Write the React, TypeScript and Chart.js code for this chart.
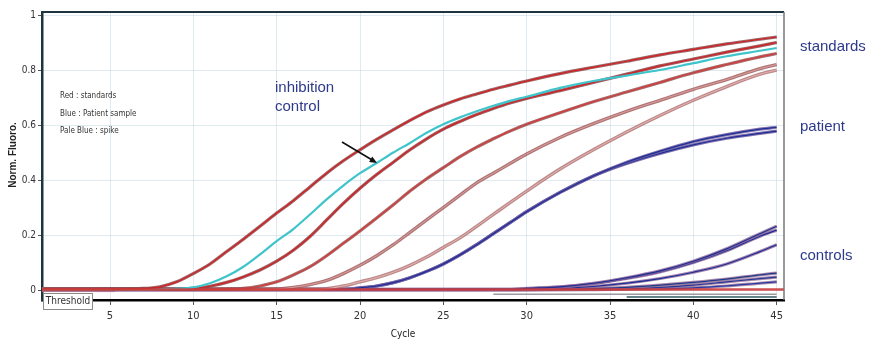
import React, { useEffect, useRef } from "react";
import { Chart, registerables } from "chart.js";
Chart.register(...registerables);

// Cycle grid shared by all series
const CYCLES = [1, 4, 7, 8, 9, 10, 11, 12, 13, 14, 15, 16, 17, 18, 19, 20, 21, 22, 23, 24, 25, 26, 27, 28, 29, 30, 32, 34, 36, 38, 40, 42, 44, 45];

// Standards (red)
const STD_1 = [0.004, 0.004, 0.006, 0.012, 0.03, 0.06, 0.095, 0.14, 0.185, 0.232, 0.28, 0.325, 0.375, 0.425, 0.47, 0.51, 0.548, 0.583, 0.617, 0.648, 0.673, 0.695, 0.713, 0.73, 0.745, 0.76, 0.787, 0.81, 0.832, 0.855, 0.875, 0.895, 0.912, 0.92];
const STD_2 = [0.004, 0.004, 0.004, 0.004, 0.004, 0.006, 0.014, 0.028, 0.048, 0.073, 0.105, 0.145, 0.195, 0.255, 0.315, 0.37, 0.42, 0.465, 0.51, 0.55, 0.585, 0.613, 0.638, 0.66, 0.68, 0.697, 0.725, 0.755, 0.785, 0.815, 0.84, 0.865, 0.888, 0.9];
const STD_3 = [0.003, 0.003, 0.003, 0.003, 0.003, 0.003, 0.003, 0.004, 0.006, 0.015, 0.03, 0.055, 0.085, 0.125, 0.17, 0.215, 0.262, 0.31, 0.36, 0.405, 0.445, 0.485, 0.52, 0.55, 0.578, 0.603, 0.645, 0.685, 0.72, 0.755, 0.79, 0.82, 0.848, 0.86];
const STD_4 = [0.003, 0.003, 0.003, 0.003, 0.003, 0.003, 0.003, 0.003, 0.003, 0.003, 0.004, 0.01, 0.02, 0.035, 0.06, 0.09, 0.125, 0.165, 0.21, 0.255, 0.3, 0.345, 0.39, 0.425, 0.46, 0.495, 0.555, 0.605, 0.65, 0.69, 0.73, 0.765, 0.805, 0.82];
const STD_5 = [0.003, 0.003, 0.003, 0.003, 0.003, 0.003, 0.003, 0.003, 0.003, 0.003, 0.003, 0.003, 0.003, 0.005, 0.015, 0.03, 0.045, 0.065, 0.09, 0.12, 0.155, 0.19, 0.232, 0.275, 0.318, 0.36, 0.44, 0.51, 0.575, 0.635, 0.69, 0.74, 0.785, 0.8];

// Spike / inhibition control (pale blue)
const SPIKE = [0.002, 0.002, 0.002, 0.003, 0.005, 0.01, 0.025, 0.05, 0.085, 0.13, 0.178, 0.222, 0.275, 0.33, 0.38, 0.425, 0.462, 0.5, 0.535, 0.572, 0.603, 0.628, 0.65, 0.67, 0.688, 0.703, 0.735, 0.76, 0.78, 0.8, 0.825, 0.85, 0.87, 0.88];

// Patient samples (blue)
const PATIENT_1 = [0.003, 0.003, 0.003, 0.003, 0.003, 0.003, 0.003, 0.003, 0.003, 0.003, 0.003, 0.003, 0.003, 0.003, 0.003, 0.008, 0.015, 0.027, 0.045, 0.068, 0.095, 0.128, 0.165, 0.205, 0.245, 0.285, 0.355, 0.415, 0.465, 0.505, 0.54, 0.565, 0.585, 0.592];
const PATIENT_2 = [0.003, 0.003, 0.003, 0.003, 0.003, 0.003, 0.003, 0.003, 0.003, 0.003, 0.003, 0.003, 0.003, 0.003, 0.003, 0.008, 0.015, 0.027, 0.045, 0.068, 0.095, 0.128, 0.165, 0.205, 0.245, 0.285, 0.355, 0.415, 0.46, 0.497, 0.528, 0.552, 0.57, 0.578];

// Controls (blue)
const CTRL_1A = [0.003, 0.003, 0.003, 0.003, 0.003, 0.003, 0.003, 0.003, 0.003, 0.003, 0.003, 0.003, 0.003, 0.003, 0.003, 0.003, 0.003, 0.003, 0.003, 0.003, 0.003, 0.003, 0.003, 0.003, 0.003, 0.006, 0.012, 0.025, 0.045, 0.07, 0.105, 0.15, 0.205, 0.232];
const CTRL_1B = [0.003, 0.003, 0.003, 0.003, 0.003, 0.003, 0.003, 0.003, 0.003, 0.003, 0.003, 0.003, 0.003, 0.003, 0.003, 0.003, 0.003, 0.003, 0.003, 0.003, 0.003, 0.003, 0.003, 0.003, 0.003, 0.005, 0.011, 0.023, 0.042, 0.066, 0.1, 0.143, 0.196, 0.218];
const CTRL_2 = [0.002, 0.002, 0.002, 0.002, 0.002, 0.002, 0.002, 0.002, 0.002, 0.002, 0.002, 0.002, 0.002, 0.002, 0.002, 0.002, 0.002, 0.002, 0.002, 0.002, 0.002, 0.002, 0.002, 0.002, 0.002, 0.003, 0.006, 0.013, 0.025, 0.042, 0.065, 0.095, 0.14, 0.165];
const CTRL_3 = [0.002, 0.002, 0.002, 0.002, 0.002, 0.002, 0.002, 0.002, 0.002, 0.002, 0.002, 0.002, 0.002, 0.002, 0.002, 0.002, 0.002, 0.002, 0.002, 0.002, 0.002, 0.002, 0.002, 0.002, 0.002, 0.002, 0.003, 0.005, 0.01, 0.018, 0.028, 0.04, 0.055, 0.062];
const CTRL_4 = [0.002, 0.002, 0.002, 0.002, 0.002, 0.002, 0.002, 0.002, 0.002, 0.002, 0.002, 0.002, 0.002, 0.002, 0.002, 0.002, 0.002, 0.002, 0.002, 0.002, 0.002, 0.002, 0.002, 0.002, 0.002, 0.002, 0.002, 0.003, 0.005, 0.01, 0.018, 0.03, 0.042, 0.047];
const CTRL_5 = [0.001, 0.001, 0.001, 0.001, 0.001, 0.001, 0.001, 0.001, 0.001, 0.001, 0.001, 0.001, 0.001, 0.001, 0.001, 0.001, 0.001, 0.001, 0.001, 0.001, 0.001, 0.001, 0.001, 0.001, 0.001, 0.001, 0.002, 0.002, 0.003, 0.005, 0.008, 0.015, 0.025, 0.03];
const FLAT_1 = [null, null, null, null, null, null, null, null, null, null, null, null, null, null, null, null, null, null, null, null, null, null, null, -0.015, -0.015, -0.015, -0.015, -0.015, -0.015, -0.015, -0.015, -0.015, -0.015, -0.015];
const FLAT_2 = [null, null, null, null, null, null, null, null, null, null, null, null, null, null, null, null, null, null, null, null, null, null, null, null, null, null, null, null, -0.025, -0.025, -0.025, -0.025, -0.025, -0.025];

const THRESHOLD = 0.002;
const Y_TICKS = [0, 0.2, 0.4, 0.6, 0.8, 1];
const X_TICKS = [5, 10, 15, 20, 25, 30, 35, 40, 45];
const Y_LABELS = ["0", "0.2", "0.4", "0.6", "0.8", "1"];

const NARROW = "'Liberation Sans Narrow', 'DejaVu Sans Condensed', 'Liberation Sans', sans-serif";
const SANS = "'Liberation Sans', Arial, sans-serif";
const NAVY = "#2d3a8c";

export default function App() {
  const ref = useRef<HTMLCanvasElement>(null);
  useEffect(() => {
    const canvas = ref.current!;
    const pts = (vals: (number | null)[]) => CYCLES.map((c, i) => ({ x: c, y: vals[i] }));
    const list: any[] = []; // bottom first
    const pair = (vals: any[], edge: string, core: string, ew = 3.2, cw = 1.2) => {
      list.push({ data: pts(vals), borderColor: edge, borderWidth: ew });
      list.push({ data: pts(vals), borderColor: core, borderWidth: cw });
    };
    list.push({ data: pts(FLAT_2), borderColor: "#2f5a60", borderWidth: 1.5 });
    list.push({ data: pts(FLAT_1), borderColor: "#9a9aa0", borderWidth: 1.5 });
    pair(CTRL_5, "rgba(150,110,150,0.8)", "#2a3aa0");
    pair(CTRL_4, "rgba(150,110,150,0.8)", "#25389a");
    pair(CTRL_3, "rgba(150,110,150,0.8)", "#1f3a8a");
    pair(CTRL_2, "rgba(140,100,150,0.8)", "#1d2f96");
    pair(CTRL_1B, "rgba(140,100,150,0.8)", "#1d2f96");
    pair(CTRL_1A, "rgba(140,100,150,0.8)", "#1d2f96");
    pair(PATIENT_2, "rgba(110,90,160,0.85)", "#1d2f96");
    pair(PATIENT_1, "rgba(110,90,160,0.85)", "#1d2f96");
    pair(STD_5, "rgba(170,110,110,0.8)", "#e8b0b0", 3.4, 1.0);
    pair(STD_4, "rgba(160,95,95,0.85)", "#e09a9a", 3.4, 1.0);
    pair(STD_3, "rgba(150,85,85,0.85)", "#d43a3a");
    pair(STD_2, "rgba(140,70,75,0.85)", "#d42020");
    list.push({ data: pts(SPIKE), borderColor: "#3fc4cc", borderWidth: 2.2 });
    pair(STD_1, "rgba(140,75,80,0.85)", "#d42020");
    const datasets = list.reverse().map((d) => ({ ...d, pointRadius: 0, fill: false, cubicInterpolationMode: "monotone", spanGaps: false }));

    const annot = {
      id: "annot",
      beforeDatasetsDraw(chart: any) {
        const { ctx, chartArea: a, scales } = chart;
        const y0 = scales.y.getPixelForValue(0);
        ctx.save();
        ctx.fillStyle = "rgba(225,110,110,0.75)";
        ctx.fillRect(a.left, y0 - 3, scales.x.getPixelForValue(5.3) - a.left, 5);
        ctx.restore();
      },
      afterDatasetsDraw(chart: any) {
        const { ctx, chartArea: a, scales } = chart;
        const yt = scales.y.getPixelForValue(THRESHOLD);
        ctx.save();
        ctx.strokeStyle = "rgba(205,60,60,0.9)";
        ctx.lineWidth = 2.5;
        ctx.beginPath();
        ctx.moveTo(a.left, yt);
        ctx.lineTo(a.right, yt);
        ctx.stroke();
        ctx.restore();
      },
      afterDraw(chart: any) {
        const { ctx, chartArea: a } = chart;
        ctx.save();
        // frame top / right
        ctx.strokeStyle = "#1e3540";
        ctx.lineWidth = 2;
        ctx.beginPath();
        ctx.moveTo(a.left - 1, a.top);
        ctx.lineTo(a.right, a.top);
        ctx.stroke();
        ctx.strokeStyle = "#777";
        ctx.lineWidth = 1.5;
        ctx.beginPath();
        ctx.moveTo(a.right, a.top);
        ctx.lineTo(a.right, a.bottom);
        ctx.stroke();

        // Threshold label
        ctx.fillStyle = "#fff";
        ctx.fillRect(a.left + 1, 293, 49, 16);
        ctx.strokeStyle = "#8a8a8a";
        ctx.lineWidth = 1;
        ctx.strokeRect(a.left + 1.5, 293.5, 49, 16);
        ctx.fillStyle = "#333";
        ctx.font = `10px ${NARROW}`;
        ctx.textAlign = "center";
        ctx.textBaseline = "middle";
        ctx.fillText("Threshold", a.left + 26, 301.5);

        // axis titles
        ctx.font = `bold 10px ${SANS}`;
        ctx.fillStyle = "#222";
        ctx.save();
        ctx.translate(13, 155);
        ctx.rotate(-Math.PI / 2);
        ctx.fillText("Norm. Fluoro.", 0, 0);
        ctx.restore();
        ctx.font = `10px ${NARROW}`;
        ctx.fillText("Cycle", 403, 334);

        // small legend
        ctx.font = `8px ${NARROW}`;
        ctx.textAlign = "left";
        ctx.fillStyle = "#333";
        ctx.fillText("Red : standards", 60, 96);
        ctx.fillText("Blue : Patient sample", 60, 114);
        ctx.fillText("Pale Blue : spike", 60, 131);

        // right side labels
        ctx.font = `15px ${SANS}`;
        ctx.fillStyle = NAVY;
        ctx.fillText("standards", 800, 47);
        ctx.fillText("patient", 800, 127);
        ctx.fillText("controls", 800, 256);
        ctx.fillText("inhibition", 275, 88);
        ctx.fillText("control", 275, 107);

        // arrow
        ctx.strokeStyle = "#111";
        ctx.fillStyle = "#111";
        ctx.lineWidth = 1.6;
        const x1 = 342, y1 = 142, x2 = 377, y2 = 163;
        ctx.beginPath();
        ctx.moveTo(x1, y1);
        ctx.lineTo(x2 - 4, y2 - 2.5);
        ctx.stroke();
        const ang = Math.atan2(y2 - y1, x2 - x1);
        ctx.beginPath();
        ctx.moveTo(x2, y2);
        ctx.lineTo(x2 - 8 * Math.cos(ang - 0.4), y2 - 8 * Math.sin(ang - 0.4));
        ctx.lineTo(x2 - 8 * Math.cos(ang + 0.4), y2 - 8 * Math.sin(ang + 0.4));
        ctx.closePath();
        ctx.fill();
        ctx.restore();
      },
    };

    const chart = new Chart(canvas, {
      type: "line",
      data: { datasets },
      plugins: [annot],
      options: {
        animation: false,
        responsive: false,
        devicePixelRatio: 1,
        layout: { padding: { left: 0, top: 12, right: 91, bottom: 0 } },
        plugins: { legend: { display: false }, tooltip: { enabled: false } },
        scales: {
          x: {
            type: "linear",
            min: 0.92,
            max: 45.44,
            afterFit: (s: any) => { s.height = 41; },
            afterBuildTicks: (s: any) => { s.ticks = X_TICKS.map((v) => ({ value: v })); },
            ticks: { font: { family: NARROW, size: 11 }, color: "#333", padding: 5, callback: (v: any) => String(v), maxRotation: 0, autoSkip: false },
            grid: { color: "rgba(185,210,222,0.45)", tickColor: "#555", tickLength: 5, lineWidth: 1 },
            border: { color: "#000", width: 2.5 },
          },
          y: {
            type: "linear",
            min: -0.036,
            max: 1.011,
            afterFit: (s: any) => { s.width = 42; },
            afterBuildTicks: (s: any) => { s.ticks = Y_TICKS.map((v) => ({ value: v })); },
            ticks: { font: { family: NARROW, size: 10 }, color: "#333", padding: 2, callback: (v: any) => { const i = Y_TICKS.indexOf(v); return i >= 0 ? Y_LABELS[i] : ""; } },
            grid: { color: "rgba(185,210,222,0.45)", tickColor: "#555", tickLength: 4, lineWidth: 1 },
            border: { color: "#1e3540", width: 2.5 },
          },
        },
      } as any,
    });
    return () => chart.destroy();
  }, []);
  return <canvas ref={ref} width={875} height={341} style={{ position: "absolute", left: 0, top: 0 }} />;
}
